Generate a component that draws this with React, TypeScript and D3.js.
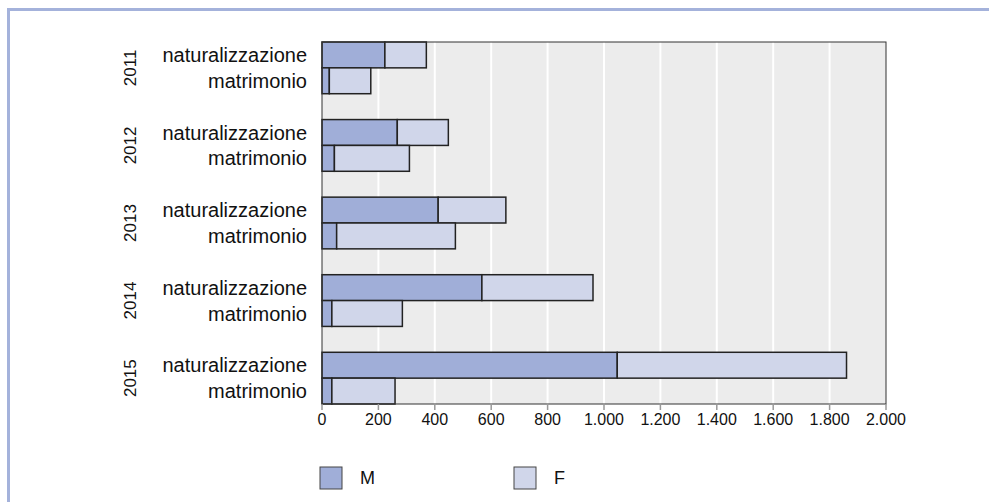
import React from "react";
import * as d3 from "d3";

const years = ["2011", "2012", "2013", "2014", "2015"];
const types = ["naturalizzazione", "matrimonio"];
// values per year: [naturalizzazione, matrimonio]
const maleValues = [
  [223, 26],
  [267, 44],
  [412, 52],
  [567, 35],
  [1047, 35],
];
const femaleValues = [
  [147, 147],
  [181, 266],
  [240, 421],
  [394, 250],
  [813, 224],
];
const xTicks = [0, 200, 400, 600, 800, 1000, 1200, 1400, 1600, 1800, 2000];
const seriesNames = ["M", "F"];
const seriesColors = ["#a0aed8", "#d0d6ea"];

const W = 989;
const H = 502;
const plot = { left: 322, right: 886, top: 42, bottom: 404 };
const FONT = "'Liberation Sans', Arial, Helvetica, sans-serif";

export default function App() {
  const x = d3.scaleLinear().domain([0, 2000]).range([plot.left, plot.right]);
  const slots = d3.range(years.length * 3 - 1);
  const y = d3
    .scaleBand<number>()
    .domain(slots)
    .range([plot.top, plot.bottom])
    .paddingInner(0)
    .paddingOuter(0);
  const bw = y.bandwidth();
  const fmt = (v: number) => d3.format(",")(v).replace(/,/g, ".");

  const rows: { g: number; t: number; m: number; f: number }[] = [];
  years.forEach((_, g) => {
    types.forEach((__, t) => {
      rows.push({ g, t, m: maleValues[g][t], f: femaleValues[g][t] });
    });
  });

  return (
    <svg
      width={W}
      height={H}
      style={{ position: "absolute", left: 0, top: 0, display: "block" }}
      fontFamily={FONT}
    >
      <rect x={0} y={0} width={W} height={H} fill="#fff" />
      {/* frame */}
      <rect x={7} y={8} width={W - 7} height={3} fill="#a4b2db" />
      <rect x={7} y={8} width={3} height={H - 8} fill="#a4b2db" />
      {/* plot background */}
      <rect
        x={plot.left}
        y={plot.top}
        width={plot.right - plot.left}
        height={plot.bottom - plot.top}
        fill="#ececec"
      />
      {xTicks.slice(1, -1).map((v) => (
        <line
          key={"g" + v}
          x1={x(v)}
          x2={x(v)}
          y1={plot.top}
          y2={plot.bottom}
          stroke="#fff"
          strokeWidth={2}
        />
      ))}
      {/* bars */}
      {rows.map((r) => {
        const yy = y(r.g * 3 + r.t)!;
        return (
          <g key={r.g + "-" + r.t}>
            <rect
              x={x(0)}
              y={yy}
              width={x(r.m) - x(0)}
              height={bw}
              fill={seriesColors[0]}
              stroke="#222"
              strokeWidth={1.5}
            />
            <rect
              x={x(r.m)}
              y={yy}
              width={x(r.m + r.f) - x(r.m)}
              height={bw}
              fill={seriesColors[1]}
              stroke="#222"
              strokeWidth={1.5}
            />
          </g>
        );
      })}
      <rect
        x={plot.left}
        y={plot.top}
        width={plot.right - plot.left}
        height={plot.bottom - plot.top}
        fill="none"
        stroke="#333"
        strokeWidth={1}
      />
      {/* x axis ticks */}
      {xTicks.map((v) => (
        <g key={"t" + v}>
          <line
            x1={x(v)}
            x2={x(v)}
            y1={plot.bottom}
            y2={plot.bottom + 6}
            stroke="#999"
            strokeWidth={1.5}
          />
          <text
            x={x(v)}
            y={plot.bottom + 21}
            textAnchor="middle"
            fontSize={16}
            fill="#111"
          >
            {fmt(v)}
          </text>
        </g>
      ))}
      {/* category labels */}
      {rows.map((r) => {
        const yy = y(r.g * 3 + r.t)! + bw / 2;
        return (
          <text
            key={"c" + r.g + r.t}
            x={307}
            y={yy}
            textAnchor="end"
            dominantBaseline="central"
            fontSize={20}
            fill="#111"
          >
            {types[r.t]}
          </text>
        );
      })}
      {/* year labels */}
      {years.map((yr, g) => {
        const cy = y(g * 3 + 1)!;
        return (
          <text
            key={"y" + yr}
            transform={`translate(130,${cy}) rotate(-90)`}
            textAnchor="middle"
            dominantBaseline="central"
            fontSize={17}
            fill="#111"
          >
            {yr}
          </text>
        );
      })}
      {/* legend */}
      {seriesNames.map((s, i) => {
        const lx = 320 + i * 194;
        return (
          <g key={"l" + s}>
            <rect
              x={lx}
              y={467}
              width={22}
              height={22}
              fill={seriesColors[i]}
              stroke="#444"
              strokeWidth={1}
            />
            <text
              x={lx + 40}
              y={478}
              dominantBaseline="central"
              fontSize={18}
              fill="#111"
            >
              {s}
            </text>
          </g>
        );
      })}
    </svg>
  );
}
